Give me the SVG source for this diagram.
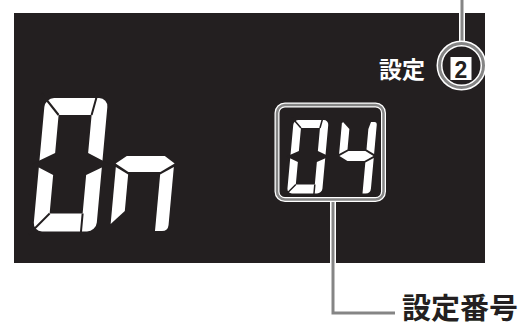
<svg xmlns="http://www.w3.org/2000/svg" width="524" height="327" viewBox="0 0 524 327">
<style>
.seg{fill:#fff}
.hole{fill:#231f20}
.cut{fill:none;stroke:#231f20;stroke-width:2}
.cuts{fill:none;stroke:#231f20;stroke-width:1.5}
.halo{fill:none;stroke:#fff;stroke-width:6}
.halo2{fill:none;stroke:#fff;stroke-width:5}
.lead{fill:none;stroke:#858585;stroke-width:3}
.lead2{fill:none;stroke:#858585;stroke-width:2.5}
.lbl{font-family:"Noto Sans CJK JP","Noto Sans CJK SC",sans-serif;font-weight:700}
</style>
<rect width="524" height="327" fill="#fff"/>
<g id="panel"><rect x="14" y="13" width="471" height="250" fill="#231f20"/></g>

<g id="digit-big-0" transform="translate(33,231.5) skewX(-5.2)">
<rect class="seg" x="0" y="-133.5" width="63" height="133.5" rx="9"/>
<polygon class="hole" points="15,-116.5 48,-116.5 48,-78.5 70,-67.5 48,-56.5 48,-18 15,-18 15,-56.5 -7,-67.5 15,-78.5"/>
<path class="cut" d="M-4,-138 L15,-116.5 M52,-138 L48,-116.5 M-4,3 L15,-18 M48,-18 L48,3"/>
</g>

<g id="digit-big-n" transform="translate(110,231) skewX(-5.2)">
<polygon class="seg" points="10,-75 48,-75 58.5,-67.5 45,-59 13,-59 -0.5,-67.5"/>
<polygon class="seg" points="0,-64 13,-56.5 13,-20 0,-7"/>
<path class="seg" d="M58,-64 L45,-56.5 L45,0 L52,0 Q58,0 58,-6 Z"/>
</g>

<g id="digit-small-0" transform="translate(287,193.5) skewX(-5.2)">
<rect class="seg" x="0" y="-73.5" width="35" height="73.5" rx="5"/>
<polygon class="hole" points="8,-65.5 27,-65.5 27,-42.5 39,-37 27,-31.5 27,-9 8,-9 8,-31.5 -4,-37 8,-42.5"/>
<path class="cuts" d="M-2,-76 L8,-65.5 M29,-76 L27,-65.5 M-2,2 L8,-9 M27,-9 L27,2"/>
</g>

<g id="digit-small-4" transform="translate(335.5,193.5) skewX(-5.2)">
<polygon class="seg" points="0,-70 1,-71.5 8,-64.5 8,-44 0,-39.5"/>
<polygon class="seg" points="9,-42.5 26,-42.5 34.5,-37.5 26,-32.5 9,-32.5 0.5,-37.5"/>
<path class="seg" d="M27,-64.5 L29,-71.5 L32.5,-71.5 Q35,-71.5 35,-68.5 L35,-39.5 L27,-44 Z"/>
<path class="seg" d="M27,-31 L35,-35.5 L35,-5 Q35,0 30,0 L27,0 Z"/>
</g>

<g id="connectors">
<line class="halo" x1="462" y1="0" x2="462" y2="44"/>
<polyline class="halo" points="333,199.5 333,313 395,313"/>
<line class="lead" x1="462" y1="0" x2="462" y2="44"/>
<polyline class="lead" points="333,199.5 333,313 395,313"/>
</g>

<g id="setting-marker">
<circle class="halo" cx="461.5" cy="65.5" r="22"/>
<circle class="lead" cx="461.5" cy="65.5" r="22"/>
<rect x="450.5" y="57" width="21" height="23" fill="#fff"/>
<text x="461" y="77.5" text-anchor="middle" font-family="Liberation Sans, Arial, sans-serif" font-weight="700" font-size="23" fill="#231f20">2</text>
</g>

<g id="setting-label">
<text class="lbl" x="425" y="78" text-anchor="end" font-size="23" fill="#fff">設定</text>
</g>

<g id="number-frame">
<rect class="halo2" x="277" y="105" width="106.5" height="94.5" rx="8"/>
<rect class="lead2" x="277" y="105" width="106.5" height="94.5" rx="8"/>
</g>

<g id="number-label">
<text class="lbl" x="402" y="318.5" font-size="29" fill="#231f20">設定番号</text>
</g>
</svg>
